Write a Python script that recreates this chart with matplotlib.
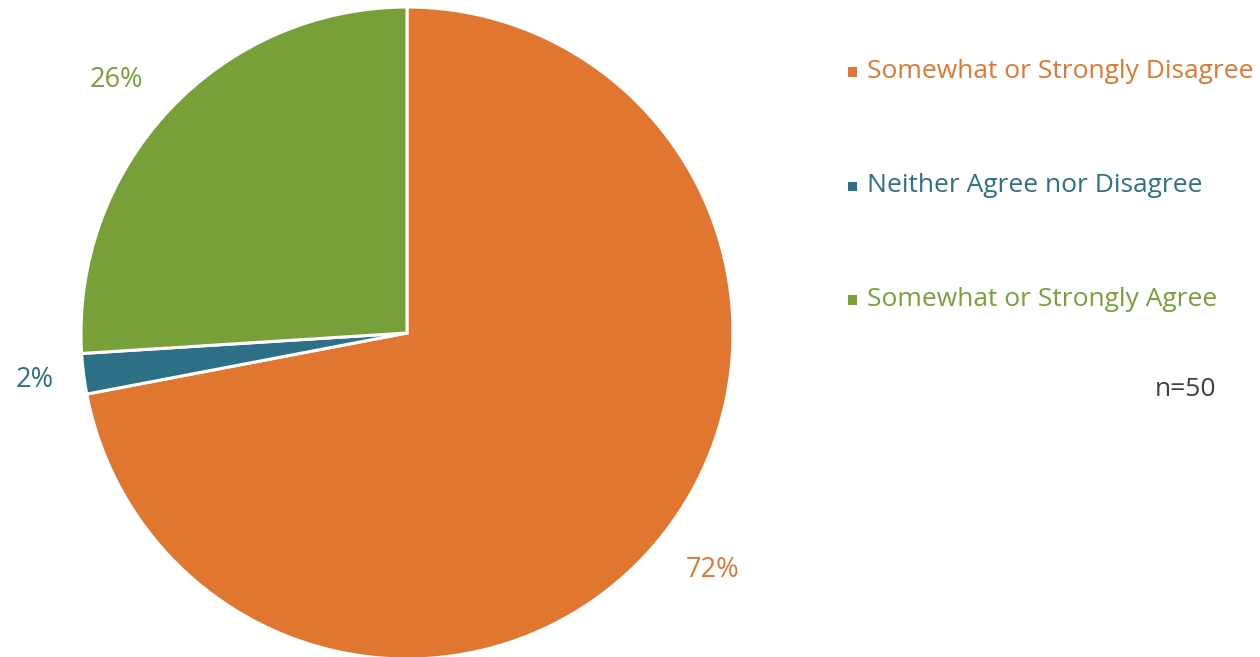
import matplotlib.pyplot as plt
from matplotlib.patches import Rectangle

plt.rcParams['font.family'] = ['Open Sans', 'DejaVu Sans']

categories = ['Somewhat or Strongly Disagree', 'Neither Agree nor Disagree', 'Somewhat or Strongly Agree']
values = [72, 2, 26]
colors = ['#E07630', '#2E7085', '#78A038']
note = 'n=50'

# label anchor positions (layout, in pie-radius units)
label_pos = [(0.936, -0.727), (-1.141, -0.144), (-0.890, 0.776)]

W, H = 1260, 657
fig = plt.figure(figsize=(W / 100, H / 100), dpi=100)

cx, cy, R = 407, 333, 326
ax = fig.add_axes([(cx - R) / W, (H - cy - R) / H, 2 * R / W, 2 * R / H])
wedges, texts, autotexts = ax.pie(
    values, colors=colors, startangle=90, counterclock=False,
    autopct=lambda p: f'{p:.0f}%', pctdistance=1.18,
    wedgeprops=dict(edgecolor='white', linewidth=2.2),
    textprops=dict(fontsize=19.5))
for t, c, pos in zip(autotexts, colors, label_pos):
    t.set_color(c)
    t.set_position(pos)
ax.set_xlim(-1, 1)
ax.set_ylim(-1, 1)
ax.set_aspect('equal')
ax.axis('off')

rows_y = [72, 186, 300]
for lab, c, y in zip(categories, colors, rows_y):
    s = 9
    fig.patches.append(Rectangle(((852 - s / 2) / W, (H - y - s / 2) / H), s / W, s / H,
                                 transform=fig.transFigure, facecolor=c, edgecolor='none'))
    fig.text(867 / W, (H - y) / H, lab, color=c, fontsize=19, ha='left', va='center')

fig.text(1216 / W, (H - 389) / H, note, color='#404040', fontsize=19, ha='right', va='center')

fig.savefig('out.png', dpi=100)
